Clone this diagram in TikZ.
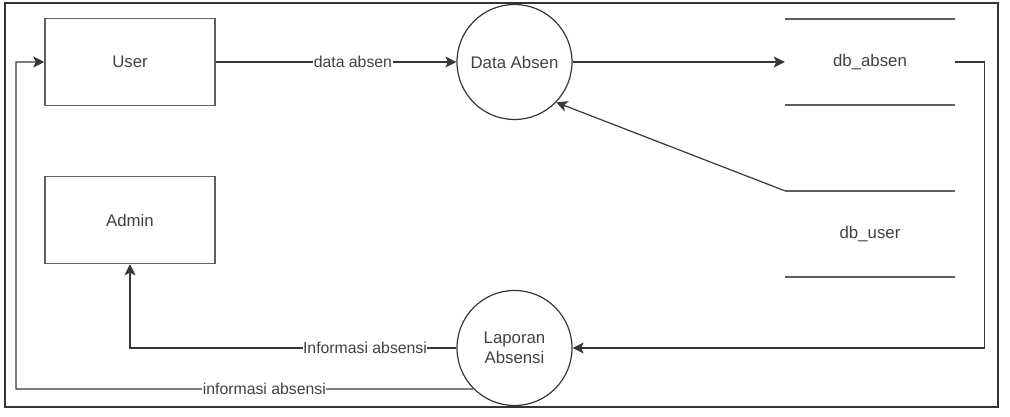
\documentclass[tikz,border=0pt]{standalone}
\usepackage{fontspec}
\setmainfont{Liberation Sans}
\usetikzlibrary{arrows.meta,positioning,calc}
\definecolor{dfdLine}{RGB}{55,55,55}
\definecolor{dfdBox}{RGB}{95,95,95}
\definecolor{dfdText}{RGB}{65,65,65}

\begin{document}
\begin{tikzpicture}[x=1pt,y=-1pt,
  entity/.style={draw=dfdBox,line width=1.5pt,minimum width=170pt,minimum height=87pt,
    inner sep=0pt,text=dfdText,font=\fontsize{16.8}{20}\selectfont},
  proc/.style={draw=dfdLine,line width=1.2pt,circle,minimum size=115pt,inner sep=0pt,
    align=center,text=dfdText,font=\fontsize{16.8}{20}\selectfont},
  store/.style={minimum width=170pt,minimum height=86pt,inner sep=0pt,
    text=dfdText,font=\fontsize{16.8}{20}\selectfont},
  storeline/.style={draw=dfdBox,line width=1.5pt},
  flow/.style={draw=dfdLine,line width=1.2pt,-{Stealth[length=11pt,width=11pt,inset=2.5pt]}},
  lbl/.style={fill=white,inner sep=0.5pt,text=dfdText,font=\fontsize{15.8}{18}\selectfont}]
  \useasboundingbox (0,0) rectangle (1010,417);
  \draw[line width=1.7pt,black!80] (5,3) rectangle (998,407);
  % external entities
  \node[entity] (user) at (130,62) {User};
  \node[entity] (admin) at (130,220) {Admin};
  % processes
  \node[proc] (dataabsen) at (514.5,62) {Data Absen};
  \node[proc] (laporan) at (514.5,348) {Laporan\\Absensi};
  % data stores
  \node[store] (dbabsen) at (870,62) {db\_absen};
  \node[store] (dbuser) at (870,234) {db\_user};
  \draw[storeline] (dbabsen.north west) -- (dbabsen.north east);
  \draw[storeline] (dbabsen.south west) -- (dbabsen.south east);
  \draw[storeline] (dbuser.north west) -- (dbuser.north east);
  \draw[storeline] (dbuser.south west) -- (dbuser.south east);
  \coordinate (leftrail) at (16,389);
  % flows
  \draw[flow] (user.east) -- node[lbl,pos=0.57]{data absen} (dataabsen.west);
  \draw[flow] (dataabsen.east) -- (dbabsen.west);
  \draw[flow] (dbuser.north west) -- (dataabsen.-44);
  \draw[flow] (dbabsen.east) -- ++(29,0) |- (laporan.east);
  \draw[flow] (laporan.west) -- node[lbl,pos=0.28]{Informasi absensi}
    (laporan.west -| admin.south) -- (admin.south);
  \draw[flow] (laporan.225) -- node[lbl,pos=0.457]{informasi absensi}
    (leftrail) |- (user.west);
\end{tikzpicture}
\end{document}
